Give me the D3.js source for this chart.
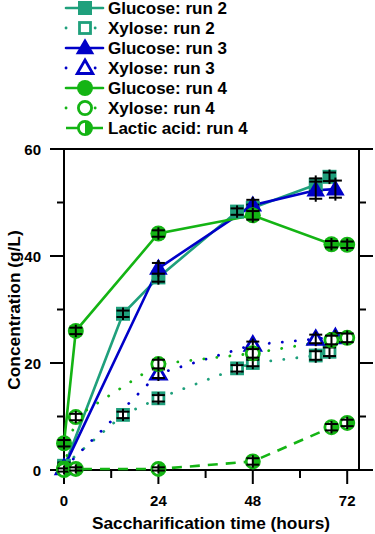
<!DOCTYPE html>
<html>
<head>
<meta charset="utf-8">
<script src="https://cdn.jsdelivr.net/npm/d3@7"></script>
<style>
  html, body { margin: 0; padding: 0; background: #fff; }
  svg { display: block; font-family: "Liberation Sans", Arial, sans-serif; font-weight: bold; }
</style>
</head>
<body>
<svg id="chart" width="375" height="534"></svg>
<script>
// Messzeiten (h) je Lauf
const tRun2 = [0, 15, 24, 44, 48, 64, 67.5];
const tRun3 = [0, 24, 48, 64, 69];
const tRun4 = [0, 3, 24, 48, 68, 72];

// Konzentrationen (g/L)
const glucose2 = [0.5, 29.2, 36, 48.3, 49, 53.3, 54.8];
const xylose2 = [0.8, 10.3, 13.4, 19.0, 20.0, 21.4, 22.1];
const glucose3 = [0.5, 37.7, 49.5, 52.3, 52.5];
const xylose3 = [0.3, 18.0, 23.4, 24.5, 24.8];
const glucose4 = [5, 26, 44.2, 47.6, 42.2, 42.1];
const xylose4 = [0.3, 9.9, 19.8, 21.8, 24.3, 24.7];
const lactic4 = [0, 0.2, 0.2, 1.6, 8.0, 8.8];

// Standardabweichungen
const glucose2Sd = [0.6, 0.6, 0.8, 0.6, 0.6, 1.2, 0.8];
const xylose2Sd = [0.6, 0.6, 0.6, 0.6, 0.6, 0.8, 0.8];
const glucose3Sd = [0.6, 1.0, 1.0, 1.6, 1.6];
const xylose3Sd = [0.5, 0.8, 0.6, 0.8, 0.8];
const glucose4Sd = [0.6, 0.6, 0.6, 0.8, 0.6, 0.6];
const xylose4Sd = [0.5, 0.6, 0.8, 0.8, 0.8, 0.8];
const lactic4Sd = [0.3, 0.3, 0.3, 0.6, 0.6, 0.6];

const xTicks = [0, 24, 48, 72];
const xMinor = [12, 36, 60];
const yTicks = [0, 20, 40, 60];
const yMinor = [10, 30, 50];

const legendLabels = [
  "Glucose: run 2", "Xylose: run 2", "Glucose: run 3", "Xylose: run 3",
  "Glucose: run 4", "Xylose: run 4", "Lactic acid: run 4"
];

const teal = "#1fa07c", blue = "#0000c8", green = "#14b414";

const series = [
  { t: tRun2, v: glucose2, sd: glucose2Sd, color: teal, line: "solid", marker: "square", fill: true },
  { t: tRun2, v: xylose2, sd: xylose2Sd, color: teal, line: "dot", marker: "square", fill: false },
  { t: tRun3, v: glucose3, sd: glucose3Sd, color: blue, line: "solid", marker: "triangle", fill: true },
  { t: tRun3, v: xylose3, sd: xylose3Sd, color: blue, line: "dot", marker: "triangle", fill: false },
  { t: tRun4, v: glucose4, sd: glucose4Sd, color: green, line: "solid", marker: "circle", fill: true },
  { t: tRun4, v: xylose4, sd: xylose4Sd, color: green, line: "dot", marker: "circle", fill: false },
  { t: tRun4, v: lactic4, sd: lactic4Sd, color: green, line: "dash", marker: "circle", fill: "half" },
];
series.forEach((s, i) => s.label = legendLabels[i]);

const svg = d3.select("#chart");
const x = d3.scaleLinear().domain([0, 75]).range([64, 359]);
const y = d3.scaleLinear().domain([0, 60]).range([470, 149]);

// Rahmen und Achsen
const axisG = svg.append("g");
axisG.append("rect")
  .attr("x", x(0)).attr("y", y(60))
  .attr("width", x(75) - x(0)).attr("height", y(0) - y(60))
  .attr("fill", "none").attr("stroke", "#000").attr("stroke-width", 2);

function yTickLines(vals, len) {
  vals.forEach(v => {
    axisG.append("line").attr("x1", x(0) - len).attr("x2", x(0))
      .attr("y1", y(v)).attr("y2", y(v)).attr("stroke", "#000").attr("stroke-width", 2);
    axisG.append("line").attr("x1", x(75)).attr("x2", x(75) + len)
      .attr("y1", y(v)).attr("y2", y(v)).attr("stroke", "#000").attr("stroke-width", 2);
  });
}
yTickLines(yTicks, 14);
yTickLines(yMinor, 7);

function xTickLines(vals, len) {
  vals.forEach(v => {
    axisG.append("line").attr("x1", x(v)).attr("x2", x(v))
      .attr("y1", y(0)).attr("y2", y(0) + len).attr("stroke", "#000").attr("stroke-width", 2);
  });
}
xTickLines(xTicks, 14);
xTickLines(xMinor, 8);

yTicks.forEach(v => {
  axisG.append("text").attr("x", 41).attr("y", y(v) + 5.5)
    .attr("text-anchor", "end").attr("font-size", 15).text(v);
});
xTicks.forEach(v => {
  axisG.append("text").attr("x", x(v)).attr("y", 506)
    .attr("text-anchor", "middle").attr("font-size", 15).text(v);
});

svg.append("text").attr("x", 211).attr("y", 529)
  .attr("text-anchor", "middle").attr("font-size", 17.3)
  .text("Saccharification time (hours)");
svg.append("text")
  .attr("transform", "translate(20," + 310 + ") rotate(-90)")
  .attr("text-anchor", "middle").attr("font-size", 17.3)
  .text("Concentration (g/L)");

// Linienstile
function applyLine(sel, s) {
  sel.attr("fill", "none").attr("stroke", s.color).attr("stroke-linecap", "round");
  if (s.line === "solid") sel.attr("stroke-width", 2.6);
  if (s.line === "dot") sel.attr("stroke-width", 2.8).attr("stroke-dasharray", "0.1,13");
  if (s.line === "dash") sel.attr("stroke-width", 2.6).attr("stroke-dasharray", "10,8").attr("stroke-linecap", "butt");
}

// Marker zeichnen
function drawMarker(g, s, cx, cy) {
  const fillCol = s.fill === true ? s.color : "#fff";
  if (s.marker === "square") {
    const h = s.fill === true ? 7 : 5.5;
    g.append("rect").attr("x", cx - h).attr("y", cy - h).attr("width", 2 * h).attr("height", 2 * h)
      .attr("fill", fillCol).attr("stroke", s.color).attr("stroke-width", s.fill === true ? 0 : 2.8);
  } else if (s.marker === "triangle") {
    g.append("path")
      .attr("d", d3.symbol(d3.symbolTriangle, s.fill === true ? 150 : 105)())
      .attr("transform", `translate(${cx},${cy + 1})`)
      .attr("fill", fillCol).attr("stroke", s.color).attr("stroke-width", s.fill === true ? 0 : 2.8);
  } else {
    const r = s.fill === true ? 8 : 6.6;
    g.append("circle").attr("cx", cx).attr("cy", cy).attr("r", r)
      .attr("fill", fillCol).attr("stroke", s.color).attr("stroke-width", s.fill === true ? 0 : 2.8);
    if (s.fill === "half") {
      g.append("path")
        .attr("d", `M${cx},${cy - r} A${r},${r} 0 0 1 ${cx},${cy + r} Z`)
        .attr("fill", s.color);
    }
  }
}

function drawErr(g, cx, cy, sdPx) {
  const cap = 6.5;
  g.append("line").attr("x1", cx).attr("x2", cx)
    .attr("y1", cy - sdPx - 3).attr("y2", cy + sdPx + 3)
    .attr("stroke", "#000").attr("stroke-width", 2);
  [cy - sdPx, cy + sdPx].forEach(yy => {
    g.append("line").attr("x1", cx - cap).attr("x2", cx + cap)
      .attr("y1", yy).attr("y2", yy).attr("stroke", "#000").attr("stroke-width", 2);
  });
}

const plot = svg.append("g");
const lineGen = d3.line().x(d => x(d[0])).y(d => y(d[1]));

series.forEach(s => {
  const pts = s.t.map((t, i) => [t, s.v[i]]);
  plot.append("path").datum(pts).attr("d", lineGen).call(applyLine, s);
});
series.forEach(s => {
  s.t.forEach((t, i) => {
    const g = plot.append("g");
    drawMarker(g, s, x(t), y(s.v[i]));
    drawErr(g, x(t), y(s.v[i]), y(0) - y(s.sd[i]));
  });
});

// Legende
const leg = svg.append("g");
series.forEach((s, i) => {
  const cy = 8 + i * 20;
  const ln = leg.append("path").attr("d", `M66,${cy} L103,${cy}`).call(applyLine, s);
  if (s.line === "dot") ln.attr("stroke-dasharray", "0.1,29");
  if (s.line === "dash") ln.attr("stroke-dasharray", null);
  drawMarker(leg, s, 85, cy);
  leg.append("text").attr("x", 108).attr("y", cy + 6).attr("font-size", 17).text(s.label);
});
</script>
</body>
</html>
